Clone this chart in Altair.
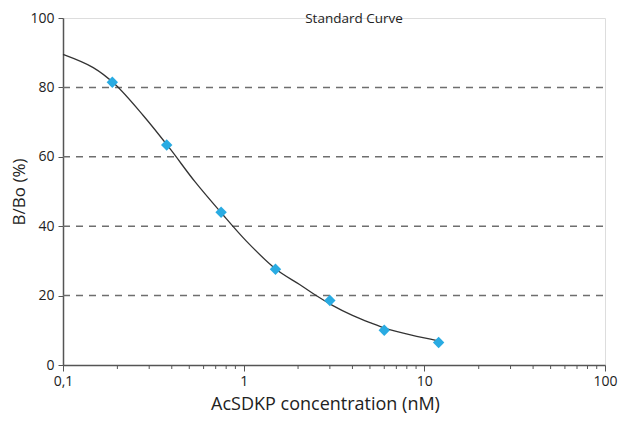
import altair as alt
import pandas as pd

# Standard points (AcSDKP concentration in nM, B/Bo in %)
conc = [0.1875, 0.375, 0.75, 1.5, 3, 6, 12]
bbo = [81.5, 63.4, 44.0, 27.6, 18.6, 10.0, 6.5]

# Fitted curve
curve_x = [0.1, 0.147, 0.194, 0.278, 0.39, 0.536, 0.753, 1.035, 1.51, 2.04, 2.42, 3.1, 4.0, 5.0, 6.14, 8.5, 12.1]
curve_y = [89.5, 85.7, 80.9, 71.9, 62.4, 52.9, 43.8, 35.7, 27.6, 23.2, 20.6, 17.2, 14.3, 12.2, 10.5, 8.6, 6.9]

grid_y = [20, 40, 60, 80]
x_major = [0.1, 1, 10, 100]
x_minor = [0.2, 0.3, 0.4, 0.5, 0.6, 0.7, 0.8, 0.9,
           2, 3, 4, 5, 6, 7, 8, 9,
           20, 30, 40, 50, 60, 70, 80, 90]
y_ticks = [0, 20, 40, 60, 80, 100]

FONT = "Open Sans"
AX = "#555555"

xscale = alt.Scale(type="log", domain=[0.1, 100], nice=False)
yscale = alt.Scale(domain=[0, 100], nice=False)

pts = pd.DataFrame({"c": conc, "b": bbo})
crv = pd.DataFrame({"c": curve_x, "b": curve_y})
grid = pd.DataFrame({"g": grid_y})
minor = pd.DataFrame({"m": x_minor})

xaxis = alt.Axis(values=x_major, title="AcSDKP concentration (nM)",
                 labelExpr="replace(toString(datum.value), '.', ',')",
                 grid=False, tickSize=6, tickColor=AX, domainColor=AX,
                 domainWidth=1.5, tickWidth=1, labelFont=FONT, labelFontSize=14,
                 labelColor="#222", titleFont=FONT, titleFontSize=18,
                 titleFontWeight="normal", titleColor="#222", titlePadding=7,
                 titleX=262, titleAnchor="start", titleAlign="center",
                 labelPadding=3, labelFlush=False)
yaxis = alt.Axis(values=y_ticks, title="B/Bo (%)", grid=False, tickSize=5,
                 tickColor=AX, domainColor=AX, domainWidth=1.5, labelFont=FONT,
                 labelFontSize=14, labelColor="#222", titleFont=FONT,
                 titleFontSize=17, titleFontWeight="normal", titleColor="#222",
                 titlePadding=1, labelPadding=4)

gridlines = alt.Chart(grid).mark_rule(color="#6e6e6e", strokeDash=[7, 6], strokeWidth=1.5).encode(
    y=alt.Y("g:Q", scale=yscale, axis=yaxis),
    x=alt.value(0), x2=alt.value(540),
)

minor_ticks = alt.Chart(minor).mark_rule(color=AX, strokeWidth=1).encode(
    x=alt.X("m:Q", scale=xscale, axis=xaxis),
    y=alt.value(347), y2=alt.value(351),
)

line = alt.Chart(crv).mark_line(color="#333333", strokeWidth=1.3, interpolate="catmull-rom").encode(
    x=alt.X("c:Q", scale=xscale, axis=xaxis),
    y=alt.Y("b:Q", scale=yscale, axis=yaxis),
)

points = alt.Chart(pts).mark_point(shape="diamond", filled=True, opacity=1,
                                   color="#29abe2", size=130).encode(
    x=alt.X("c:Q", scale=xscale, axis=xaxis),
    y=alt.Y("b:Q", scale=yscale, axis=yaxis),
)

title = alt.Chart(pd.DataFrame({"t": ["Standard Curve"]})).mark_text(
    font=FONT, fontSize=13.5, color="#222", baseline="middle", align="center"
).encode(text="t:N", x=alt.value(291), y=alt.value(1))

chart = alt.layer(gridlines, minor_ticks, line, points, title).properties(
    width=542, height=347,
    autosize=alt.AutoSizeParams(type="none"),
    padding={"left": 55, "top": 10, "right": 14, "bottom": 48},
).configure_view(stroke=None).configure(background="white")

chart.save("out.html", embed_options={"renderer": "svg", "actions": False})
